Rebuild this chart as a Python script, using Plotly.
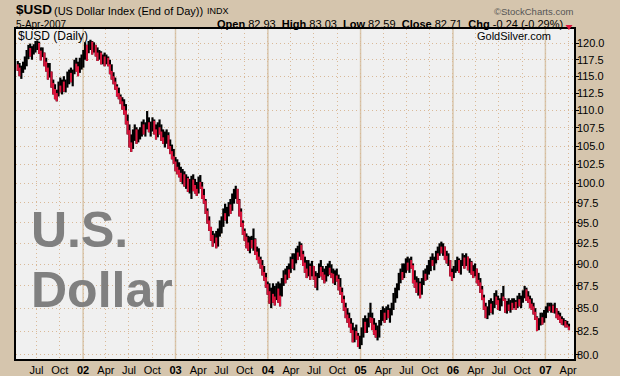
import math
import pandas as pd
import plotly.graph_objects as go

# ---------------- data (weekly bars) ----------------
first_week = "2001-04-18"
first_open = 116.8

high = [
117.3,117.0,116.6,117.2,118.0,119.0,119.8,120.0,119.6,119.9,
120.4,120.5,120.3,119.4,119.4,118.6,117.8,117.0,117.0,115.7,
114.5,113.8,113.0,114.2,114.8,114.5,115.0,114.5,115.7,116.0,
116.3,116.0,117.5,117.8,117.2,117.8,118.3,119.0,120.2,119.8,
120.4,120.6,120.4,120.2,119.8,119.4,119.0,118.8,118.3,118.6,
118.3,118.0,117.5,116.8,115.6,114.8,113.8,113.3,112.3,111.9,
111.6,110.9,109.4,108.0,106.6,107.3,108.0,107.6,107.3,107.6,
108.4,108.7,108.3,109.9,109.0,108.4,109.0,108.7,108.0,108.3,
108.7,108.0,107.3,107.0,107.3,106.9,105.9,105.2,104.6,103.5,
103.2,102.8,102.2,101.9,101.6,101.2,100.9,100.6,101.0,101.2,
100.6,100.2,100.9,101.1,100.2,99.3,98.0,96.8,95.8,94.5,
94.0,93.7,94.0,94.3,95.3,95.8,96.8,97.4,97.0,97.6,
98.0,98.7,99.3,99.7,99.3,98.0,96.8,95.3,94.3,93.7,
93.4,93.3,93.4,94.3,93.1,92.1,91.9,90.9,90.5,89.8,
89.0,88.0,87.8,87.3,87.8,87.5,87.8,88.0,87.8,88.4,
89.3,89.5,89.8,90.1,90.9,91.3,91.3,91.9,92.2,92.7,
92.5,91.6,90.9,90.5,90.5,90.1,90.4,89.8,89.2,89.0,
90.1,90.5,89.8,89.5,89.8,90.1,90.4,90.0,89.5,89.3,
89.5,88.8,88.4,87.3,86.4,85.6,85.0,84.5,83.9,83.4,
82.9,83.2,82.3,82.0,82.9,83.9,84.2,83.9,84.5,85.6,
84.5,83.9,83.4,83.1,83.7,84.8,85.2,85.0,85.2,85.4,
85.0,85.6,86.7,87.3,87.8,89.0,89.5,90.1,90.1,90.7,
90.9,90.7,90.9,90.1,89.3,88.6,88.4,88.0,88.4,89.3,
89.5,89.9,90.5,90.9,91.3,90.9,91.6,92.1,92.5,92.7,
92.5,92.1,91.6,91.3,90.5,89.5,89.8,90.5,90.9,90.7,
90.5,91.3,91.1,91.3,90.9,90.7,90.4,89.9,90.1,89.5,
89.0,88.4,87.5,86.5,85.6,85.2,85.9,86.1,85.8,86.7,
87.0,86.4,86.1,86.7,87.5,86.1,85.8,86.1,85.9,86.1,
86.1,85.9,86.4,86.7,86.4,87.0,87.5,87.3,86.9,86.4,
86.1,85.6,85.0,84.1,83.9,84.5,84.5,84.8,85.2,85.6,
85.6,85.6,85.4,85.6,85.0,84.7,84.5,84.1,83.9,83.7,
83.6,83.3]

low = [
115.8,115.0,114.6,115.5,116.0,116.5,117.6,118.0,117.5,118.3,
118.6,119.0,118.4,117.4,117.9,116.5,115.7,114.5,114.8,113.3,
112.3,111.6,111.3,112.0,112.6,112.3,112.7,112.6,113.3,113.8,
114.1,113.5,115.3,115.7,115.0,115.5,116.0,116.3,117.5,117.3,
118.5,119.0,118.3,118.6,118.0,117.3,117.5,116.8,116.8,116.5,
116.8,116.5,115.3,114.5,113.8,113.0,112.0,111.6,110.9,110.1,
109.4,108.0,106.6,104.8,104.2,104.6,105.7,105.3,105.5,105.9,
106.3,106.6,106.3,107.3,106.9,106.3,107.0,106.6,105.9,106.2,
106.6,105.7,105.3,104.8,105.3,104.6,103.9,103.2,102.6,101.6,
101.2,100.8,100.2,99.9,99.6,99.3,98.9,98.7,98.0,99.0,
98.7,98.4,98.7,99.3,98.0,97.4,96.1,94.9,94.0,92.8,
92.1,92.5,91.9,92.1,93.3,93.7,94.5,95.3,94.9,95.8,
96.1,96.5,97.4,98.0,97.4,95.8,94.5,93.5,92.8,91.9,
91.6,91.3,91.9,91.6,91.1,90.5,90.1,89.5,88.7,88.1,
87.3,86.5,85.5,85.0,85.6,85.3,85.9,85.6,85.2,86.3,
87.5,87.8,88.2,88.4,89.0,89.5,89.3,90.1,90.5,90.9,
90.5,89.8,89.0,88.4,88.6,88.2,88.6,88.2,87.3,87.0,
88.4,88.6,88.2,87.8,88.0,88.6,88.8,88.4,87.8,87.6,
88.0,87.0,86.5,85.6,84.7,83.9,83.4,82.9,82.3,81.3,
81.3,81.6,80.8,80.6,81.0,81.8,82.3,82.3,82.9,83.4,
82.6,82.1,81.8,81.5,81.8,83.1,83.6,83.4,83.7,83.9,
83.4,84.2,84.8,85.6,86.1,87.0,87.8,88.2,88.4,89.0,
89.3,89.0,89.5,87.8,87.3,86.7,86.4,86.1,86.5,87.6,
88.1,88.2,88.8,89.2,89.8,89.3,90.1,90.5,91.0,91.3,
91.0,90.5,90.1,89.8,88.6,88.1,88.4,89.0,89.2,89.0,
88.8,89.8,89.5,89.8,89.3,89.0,88.8,88.4,88.6,87.8,
87.5,86.7,85.9,84.8,83.9,83.8,84.2,84.5,84.3,85.0,
85.4,84.8,84.7,85.2,85.8,84.5,84.4,84.7,84.5,84.8,
85.0,84.8,85.0,85.2,85.0,85.6,86.1,85.8,85.6,85.0,
84.8,84.3,83.7,82.5,82.6,83.1,83.2,83.4,83.9,84.5,
84.7,84.5,84.5,84.4,83.9,83.7,83.4,83.2,83.1,82.9,
82.9,82.6]

close = [
116.3,115.6,116.1,116.8,117.6,118.5,119.3,118.6,119.2,119.6,
119.8,120.1,118.9,118.0,119.0,117.2,116.3,115.3,115.9,114.0,
113.1,112.5,111.9,113.6,113.4,114.2,113.5,114.0,115.2,115.5,
114.6,115.8,116.9,116.5,116.0,117.3,117.9,118.6,119.8,118.4,
120.0,120.3,119.0,119.8,118.6,117.9,118.6,117.5,118.0,117.0,
117.8,116.8,115.8,115.0,114.2,113.5,112.5,112.0,111.3,110.6,
110.0,108.5,107.2,105.5,104.9,106.8,107.3,106.0,106.5,107.0,
108.0,107.2,107.8,108.3,107.4,107.9,108.5,107.3,106.4,107.6,
107.0,106.2,105.8,106.3,106.5,105.0,104.3,103.6,102.9,102.2,
101.8,101.4,100.8,101.2,100.2,100.7,99.6,100.1,100.5,99.8,
99.3,99.0,100.2,99.6,98.5,97.8,96.5,95.3,94.5,93.5,
92.8,93.2,92.4,93.9,94.8,95.0,96.2,96.0,96.6,97.3,
97.0,98.3,98.9,99.4,97.9,96.4,95.0,94.0,93.3,92.6,
92.2,92.9,92.3,93.0,91.5,90.9,90.6,89.9,89.1,88.5,
87.7,86.9,86.1,86.6,86.3,85.9,87.2,86.4,86.0,88.0,
88.8,88.4,89.4,89.0,90.6,90.1,90.9,91.4,91.0,92.3,
91.2,90.2,89.5,88.9,89.8,88.7,89.9,88.6,87.7,88.5,
89.7,89.1,88.8,88.3,89.3,89.6,89.0,88.9,88.2,88.7,
88.3,87.4,86.8,86.0,85.1,84.3,83.9,83.3,82.6,81.8,
82.5,82.0,81.2,81.4,82.5,83.5,83.0,83.6,84.0,83.9,
83.2,82.6,82.1,82.5,83.4,84.2,84.5,84.0,84.8,84.3,
84.6,85.3,86.2,86.8,87.5,88.6,89.1,88.7,89.6,90.2,
89.7,90.5,89.9,88.2,87.9,87.1,87.8,86.8,87.9,88.9,
88.6,89.5,90.0,90.5,90.2,90.7,91.3,91.0,92.1,91.8,
92.2,91.0,90.6,90.9,89.1,88.5,89.4,89.8,90.5,89.4,
90.1,90.8,90.0,90.9,89.8,90.3,89.2,88.9,89.6,88.2,
87.9,87.1,86.2,85.2,84.4,84.8,85.5,85.0,85.6,86.3,
85.9,85.2,85.6,86.3,86.0,84.9,85.4,85.1,85.6,85.3,
85.7,85.2,86.0,85.6,86.1,86.6,87.1,86.3,86.0,85.5,
85.2,84.6,84.0,82.9,83.5,84.0,83.7,84.4,84.9,85.2,
85.0,85.3,84.8,85.1,84.3,84.1,83.8,83.4,83.6,83.2,
83.0,82.7]

y_tick_vals = [80.0, 82.5, 85.0, 87.5, 90.0, 92.5, 95.0, 97.5, 100.0, 102.5,
               105.0, 107.5, 110.0, 112.5, 115.0, 117.5, 120.0]
x_tick_dates = ["2001-07-01", "2001-10-01", "2002-01-01", "2002-04-01", "2002-07-01",
                "2002-10-01", "2003-01-01", "2003-04-01", "2003-07-01", "2003-10-01",
                "2004-01-01", "2004-04-01", "2004-07-01", "2004-10-01", "2005-01-01",
                "2005-04-01", "2005-07-01", "2005-10-01", "2006-01-01", "2006-04-01",
                "2006-07-01", "2006-10-01", "2007-01-01", "2007-04-01"]
x_tick_text = ["Jul", "Oct", "<b>02</b>", "Apr", "Jul", "Oct", "<b>03</b>", "Apr", "Jul", "Oct",
               "<b>04</b>", "Apr", "Jul", "Oct", "<b>05</b>", "Apr", "Jul", "Oct",
               "<b>06</b>", "Apr", "Jul", "Oct", "<b>07</b>", "Apr"]
year_lines = ["2002-01-01", "2003-01-01", "2004-01-01", "2005-01-01", "2006-01-01", "2007-01-01"]

# ---------------- figure ----------------
W, H = 620, 376
PL, PR, PT, PB = 16, 574, 29, 359
TAN = "#D5C5AD"
GRID = "#D9B998"
RED = "#DC143C"
FONT = "Liberation Sans, Arial, sans-serif"


def px(x):
    return (x - PL) / (PR - PL)


def py(y):
    return (PB - y) / (PB - PT)


dates = list(pd.date_range(first_week, periods=len(close), freq="7D"))
opens = [first_open] + close[:-1]

# black: full high-low range of every weekly bar; red: the part a down week
# travelled below its open (the down-day portion of the bar)
bx, by, rx, ry = [], [], [], []
for i, d in enumerate(dates):
    bx += [d, d, None]
    by += [low[i], high[i], None]
    if close[i] < opens[i]:
        rx += [d, d, None]
        ry += [low[i], min(opens[i], high[i]), None]

fig = go.Figure()
fig.add_trace(go.Scatter(x=bx, y=by, mode="lines", line=dict(color="#000000", width=2.2),
                         hoverinfo="skip", showlegend=False))
fig.add_trace(go.Scatter(x=rx, y=ry, mode="lines", line=dict(color=RED, width=2.0),
                         hoverinfo="skip", showlegend=False))

shapes = []
for d in year_lines:
    shapes.append(dict(type="line", xref="x", yref="paper", x0=d, x1=d, y0=0, y1=1,
                       line=dict(color="#D8C7AE", width=1.5), layer="below"))
tx, ty = 569, 27.5
shapes.append(dict(type="path", xref="paper", yref="paper",
                   path=f"M {px(tx-3.5)},{py(ty-2.5)} L {px(tx+3.5)},{py(ty-2.5)} L {px(tx)},{py(ty+2.5)} Z",
                   fillcolor=RED, line=dict(width=0)))

ann = []


def add_text(text, x, y, size, xanchor="left", color="#000000", family=FONT):
    ann.append(dict(text=text, x=px(x), y=py(y), xref="paper", yref="paper",
                    xanchor=xanchor, yanchor="middle", showarrow=False, borderpad=0,
                    font=dict(size=size, color=color, family=family)))


add_text("<b>$USD</b>", 15, 10, 13.5)
add_text("(US Dollar Index (End of Day))", 52.5, 11, 11)
add_text("INDX", 206, 11, 9)
add_text("©StockCharts.com", 574, 11, 9.5, xanchor="right", color="#555555")
add_text("5-Apr-2007", 15, 24, 10)
add_text("<b>Open</b> 82.93  <b>High</b> 83.03  <b>Low</b> 82.59  <b>Close</b> 82.71  "
         "<b>Chg</b> -0.24 (-0.29%)", 564, 24, 11, xanchor="right")
add_text("$USD (Daily)", 16.5, 36.5, 12)
add_text("GoldSilver.com", 476, 36.5, 11)
add_text("<b>U.S.</b>", 30, 230, 50, color="#808080")
add_text("<b>Dollar</b>", 30, 290, 50, color="#808080")

fig.update_layout(
    width=W, height=H,
    margin=dict(l=PL, r=W - PR, t=PT, b=H - PB, pad=0, autoexpand=False),
    paper_bgcolor=TAN, plot_bgcolor="#F0F0F0",
    font=dict(family=FONT, size=11, color="#000000"),
    shapes=shapes, annotations=ann, showlegend=False,
    xaxis=dict(
        type="date", range=["2001-04-11", "2007-04-24"],
        tickmode="array", tickvals=x_tick_dates, ticktext=x_tick_text,
        tickfont=dict(size=11, color="#000000", family=FONT), ticks="", ticklen=0,
        showgrid=True, gridcolor=GRID, griddash="1px,3px", gridwidth=1,
        showline=True, linecolor="#000000", linewidth=1.5, mirror=True,
        zeroline=False, fixedrange=True, automargin=False,
    ),
    yaxis=dict(
        type="log", side="right",
        range=[math.log10(79.55), math.log10(122.3)],
        tickmode="array", tickvals=y_tick_vals, ticktext=[f"{v:.1f}" for v in y_tick_vals],
        tickfont=dict(size=11, color="#000000", family=FONT),
        ticks="outside", ticklen=3, tickcolor="#000000", tickwidth=1,
        ticklabelstandoff=-4,
        showgrid=True, gridcolor=GRID, griddash="1px,3px", gridwidth=1,
        showline=True, linecolor="#000000", linewidth=1.5, mirror=True,
        zeroline=False, fixedrange=True, automargin=False,
    ),
)

fig.write_html("out.html", config={"displayModeBar": False},
               post_script="document.body.style.margin='0px';")
